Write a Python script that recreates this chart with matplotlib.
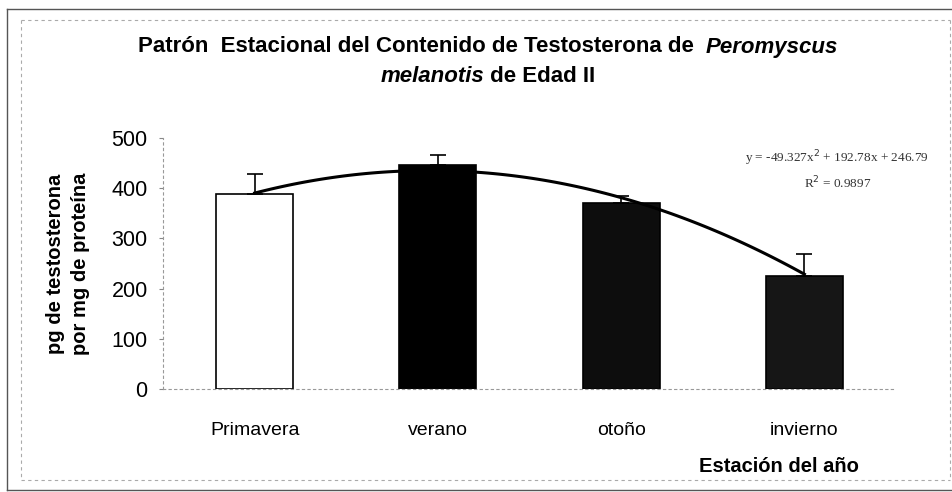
import numpy as np
import matplotlib
matplotlib.use('Agg')
import matplotlib.pyplot as plt
from matplotlib.lines import Line2D

# datos
estaciones = ['Primavera', 'verano', 'otoño', 'invierno']
medias = [388, 446, 370, 225]
error_sup = [40, 20, 15, 43]
colores = ['white', 'black', '#0d0d0d', '#161616']
coef_tendencia = [-49.327, 192.78, 246.79]
r2 = 0.9897

plt.rcParams['font.family'] = ['Liberation Sans', 'DejaVu Sans']

W, H = 953, 492


def fx(px):
    return px / W


def fy(py):
    return 1 - py / H


fig = plt.figure(figsize=(W / 100, H / 100), dpi=100)
ax = fig.add_axes([fx(163), fy(389), (896 - 163) / W, 251 / H])

x = np.arange(len(estaciones))
ax.bar(x, medias, width=0.42, color=colores, edgecolor='black', linewidth=1.2, zorder=2)
ax.errorbar(x, medias, yerr=[[0] * len(medias), error_sup], fmt='none',
            ecolor='black', elinewidth=1.2, capsize=6, capthick=1.2, zorder=3)

# linea de tendencia polinomica (x = 1..4 como en Excel)
xt = np.linspace(1, 4, 100)
yt = np.polyval(coef_tendencia, xt)
ax.plot(xt - 1, yt, color='black', linewidth=2.2, zorder=4)

ax.set_xlim(-0.5, 3.5)
ax.set_ylim(0, 500)
ax.set_yticks(range(0, 501, 100))
ax.set_xticks(x)
ax.set_xticklabels(estaciones, fontsize=14)
ax.tick_params(axis='y', labelsize=15.5, length=3, color='#888888', pad=8)
ax.tick_params(axis='x', length=0, pad=24)

for s in ['top', 'right']:
    ax.spines[s].set_visible(False)
for s in ['left', 'bottom']:
    ax.spines[s].set_color('#999999')
    ax.spines[s].set_linestyle((0, (2, 3)))
    ax.spines[s].set_linewidth(0.8)

fig.text(fx(68), fy(264), 'pg de testosterona\npor mg de proteína', fontsize=14.5,
         fontweight='bold', rotation=90, ha='center', va='center', linespacing=1.45)
fig.text(fx(859), fy(467), 'Estación del año', fontsize=14.5, fontweight='bold',
         ha='right', va='center')

# titulo con partes en cursiva
fs_t = 16
fig.canvas.draw()
r = fig.canvas.get_renderer()


def ancho(txt, **kw):
    t = fig.text(0, 0, txt, fontsize=fs_t, fontweight='bold', **kw)
    w = t.get_window_extent(r).width
    t.remove()
    return w


linea1 = [('Patrón  Estacional del Contenido de Testosterona de  ', 'normal'), ('Peromyscus', 'italic')]
linea2 = [('melanotis', 'italic'), (' de Edad II', 'normal')]
for partes, py in [(linea1, 47), (linea2, 77)]:
    anchos = [ancho(t, style=st) for t, st in partes]
    x0 = 488 - sum(anchos) / 2
    for (t, st), w in zip(partes, anchos):
        fig.text(fx(x0), fy(py), t, fontsize=fs_t, fontweight='bold', style=st,
                 ha='left', va='center')
        x0 += w

# ecuacion de la tendencia
a, b, c = coef_tendencia
fig.text(fx(745), fy(158), 'y = %.3fx$^2$ + %.2fx + %.2f' % (a, b, c), fontsize=9.5,
         family='Liberation Serif', ha='left', va='center', color='#333333')
fig.text(fx(838), fy(183), 'R$^2$ = %.4f' % r2, fontsize=9.5,
         family='Liberation Serif', ha='center', va='center', color='#333333')

# marcos exteriores
for xs, ys in [([7, 953], [9, 9]), ([7, 7], [9, 490]), ([7, 953], [490, 490])]:
    fig.add_artist(Line2D([fx(v) for v in xs], [fy(v) for v in ys], color='#555555', linewidth=1.0))
for xs, ys in [([21, 950], [20, 20]), ([21, 21], [20, 480]), ([950, 950], [20, 480]), ([21, 950], [480, 480])]:
    fig.add_artist(Line2D([fx(v) for v in xs], [fy(v) for v in ys], color='#aaaaaa',
                          linewidth=0.8, linestyle=(0, (3, 3))))

fig.savefig('out.png', dpi=100)
